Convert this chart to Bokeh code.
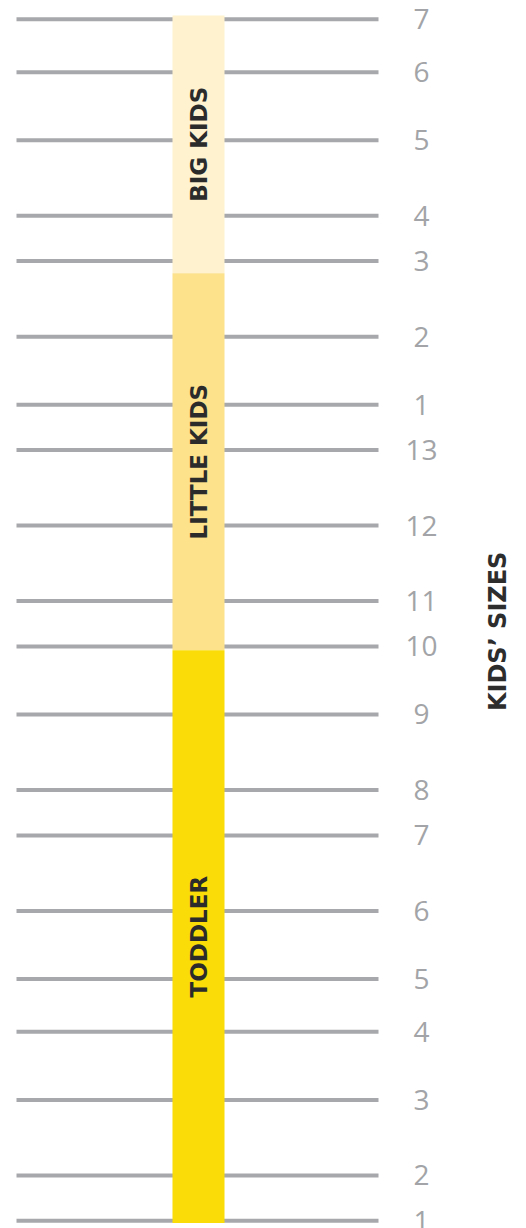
from bokeh.plotting import figure
from bokeh.models import ColumnDataSource, Range1d
from bokeh.core.properties import value
from bokeh.embed import file_html
from bokeh.resources import INLINE
import math

# ---- data (foot length, mm) ----
size_labels = ["7", "6", "5", "4", "3", "2", "1", "13", "12", "11",
               "10", "9", "8", "7", "6", "5", "4", "3", "2", "1"]
foot_mm = [249, 242, 233, 223, 217, 207, 198, 192, 182, 172,
           166, 157, 147, 141, 131, 122, 115, 106, 96, 90]

groups = ["BIG KIDS", "LITTLE KIDS", "TODDLER"]
group_bottom = [215.4, 165.5, 89.7]
group_top = [249.5, 215.4, 165.5]
group_colors = ["#FEF2CF", "#FDE18B", "#F9DC08"]

title = "KIDS\u2019 SIZES"

# ---- figure ----
W, H = 526, 1228
p = figure(width=W, height=H, output_backend="svg", toolbar_location=None,
           x_range=Range1d(0, W), y_range=Range1d(88.98, 251.48),
           min_border=0)
p.axis.visible = False
p.grid.visible = False
p.outline_line_color = None
p.background_fill_color = "white"
p.border_fill_color = "white"

# lines
lines = ColumnDataSource(dict(y=foot_mm, label=size_labels))
p.segment(x0=16, x1=378, y0="y", y1="y", source=lines,
          line_color="#A7A8AB", line_width=4)

# bars
bars = ColumnDataSource(dict(
    bottom=group_bottom, top=group_top, color=group_colors, name=groups,
    mid=[(b + t) / 2 for b, t in zip(group_bottom, group_top)]))
p.quad(left=172, right=224, bottom="bottom", top="top", fill_color="color",
       line_color=None, source=bars)

# bar labels
p.text(x=198, y="mid", text="name", source=bars, angle=math.pi / 2,
       text_font=value("DejaVu Sans"), text_font_style="bold",
       text_font_size="23px", text_color="#2B2B2B",
       text_align="center", text_baseline="middle")

# size labels
p.text(x=421, y="y", text="label", source=lines,
       text_font=value("Open Sans"), text_font_size="28px",
       text_color="#A2A4A7", text_align="center", text_baseline="middle")

# title
p.text(x=[497.5], y=[168.0], text=[title], angle=math.pi / 2,
       text_font=value("DejaVu Sans"), text_font_style="bold",
       text_font_size="24px", text_color="#2D2D2D",
       text_align="center", text_baseline="middle")

open("out.html", "w").write(file_html(p, INLINE))
